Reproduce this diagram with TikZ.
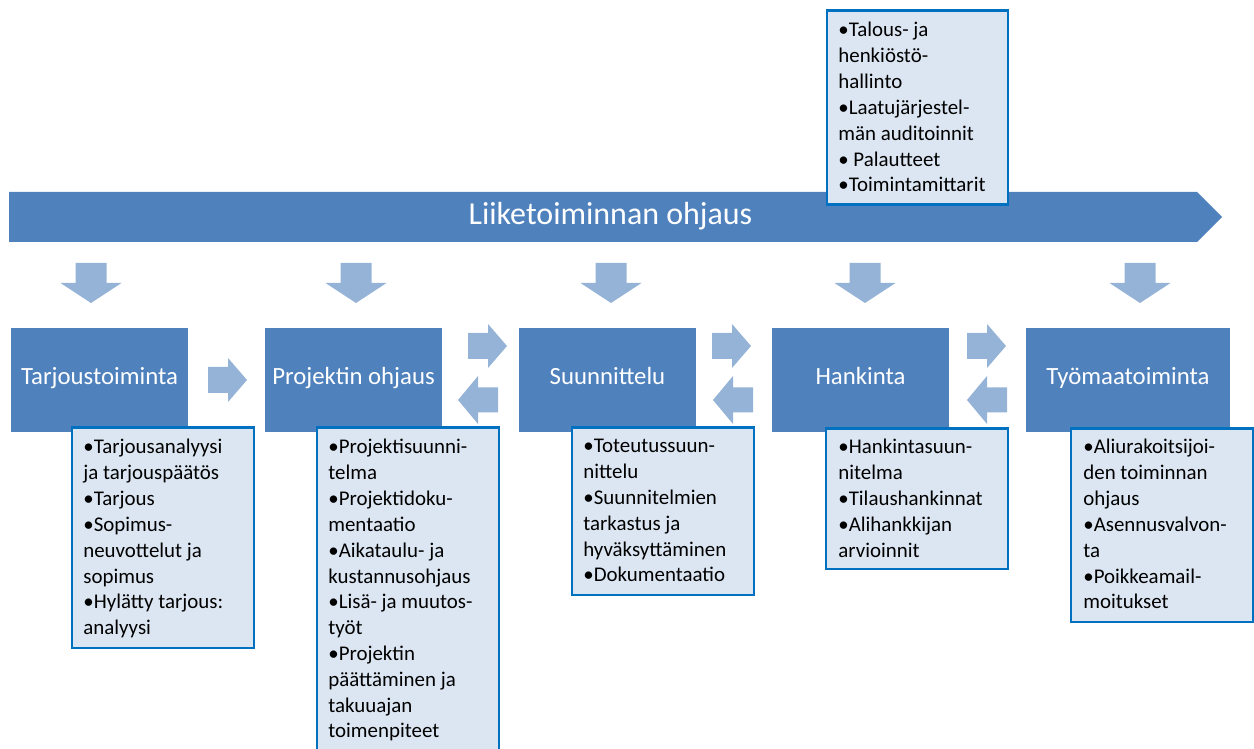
\documentclass[tikz,border=0pt]{standalone}
\usepackage{fontspec}
\setmainfont{Carlito}
\definecolor{darkblue}{HTML}{4F81BD}
\definecolor{paleblue}{HTML}{95B3D7}
\definecolor{boxfill}{HTML}{DCE6F2}
\definecolor{boxline}{HTML}{0070C0}
\newcommand\pxl{0.02cm}
\tikzset{
  stage/.style={fill=darkblue, text=white, inner sep=0pt,
    minimum height=104*\pxl, font=\fontsize{14.1}{16}\selectfont,
    text height=0.72em, text depth=0.22em},
  lightbox/.style={draw=boxline, fill=boxfill, line width=1.6pt,
    inner sep=0pt, anchor=north west},
  listtext/.style={anchor=north west, inner sep=0pt, align=left,
    font=\fontsize{11.9}{14.7}\selectfont},
  downarr/.pic={\fill[paleblue] (-15.5,0) -- (15.5,0) -- (15.5,20) -- (30.5,20)
      -- (0,40) -- (-30.5,20) -- (-15.5,20) -- cycle;},
  rightarr/.pic={\fill[paleblue] (0,-13) -- (20,-13) -- (20,-22) -- (39,0)
      -- (20,22) -- (20,13) -- (0,13) -- cycle;},
  leftarr/.pic={\fill[paleblue] (0,0) -- (20,-24) -- (20,-12.5) -- (40,-12.5)
      -- (40,12.5) -- (20,12.5) -- (20,24) -- cycle;}
}
\begin{document}
\begin{tikzpicture}[x=0.02cm, y=-0.02cm]
\useasboundingbox (0,0) rectangle (1254,749);
\clip (0,0) rectangle (1254,749);

% main process arrow
\fill[darkblue] (9,192) -- (1197,192) -- (1222,217) -- (1197,242) -- (9,242) -- cycle;
\node[text=white, inner sep=0pt, font=\fontsize{18.2}{21}\selectfont,
  text height=0.72em, text depth=0.22em] (main) at (610.5,220) {Liiketoiminnan ohjaus};

% arrows from the main process down to the stages
\pic at (91,263) {downarr};
\pic at (356,263) {downarr};
\pic at (611,263) {downarr};
\pic at (865,263) {downarr};
\pic at (1140,263) {downarr};

% stages
\node[stage, minimum width=177*\pxl] (s1) at (99.5,380) {Tarjoustoiminta};
\node[stage, minimum width=177*\pxl] (s2) at (353.5,380) {Projektin ohjaus};
\node[stage, minimum width=177*\pxl] (s3) at (607.5,380) {Suunnittelu};
\node[stage, minimum width=177*\pxl] (s4) at (860.5,380) {Hankinta};
\node[stage, minimum width=204*\pxl] (s5) at (1128,380) {Työmaatoiminta};

% arrows between the stages
\pic at (208,380) {rightarr};
\pic at (468,346) {rightarr};
\pic at (458,400) {leftarr};
\pic at (712,346) {rightarr};
\pic at (713,400) {leftarr};
\pic at (967,346) {rightarr};
\pic at (967,400) {leftarr};

% task lists
\node[lightbox, minimum width=182*\pxl, minimum height=220*\pxl] (b1) at (70.5,426.5) {};
\node[listtext] (t1) at (83,439) {•Tarjousanalyysi\\ja tarjouspäätös\\•Tarjous\\•Sopimus-\\neuvottelut ja\\sopimus\\•Hylätty tarjous:\\analyysi};

\node[lightbox, minimum width=182*\pxl, minimum height=340*\pxl] (b2) at (315.5,426.5) {};
\node[listtext] (t2) at (328,439) {•Projektisuunni-\\telma\\•Projektidoku-\\mentaatio\\•Aikataulu- ja\\kustannusohjaus\\•Lisä- ja muutos-\\työt\\•Projektin\\päättäminen ja\\takuuajan\\toimenpiteet};

\node[lightbox, minimum width=182*\pxl, minimum height=167*\pxl] (b3) at (570.5,426.5) {};
\node[listtext] (t3) at (583,439) {•Toteutussuun-\\nittelu\\•Suunnitelmien\\tarkastus ja\\hyväksyttäminen\\•Dokumentaatio};

\node[lightbox, minimum width=182*\pxl, minimum height=140*\pxl] (b4) at (824.5,427.5) {};
\node[listtext] (t4) at (838,439) {•Hankintasuun-\\nitelma\\•Tilaushankinnat\\•Alihankkijan\\arvioinnit};

\node[lightbox, minimum width=182*\pxl, minimum height=193*\pxl] (b5) at (1069.5,427.5) {};
\node[listtext] (t5) at (1083,439) {•Aliurakoitsijoi-\\den toiminnan\\ohjaus\\•Asennusvalvon-\\ta\\•Poikkeamail-\\moitukset};

\node[lightbox, minimum width=181*\pxl, minimum height=194*\pxl] (b0) at (825.5,9.5) {};
\node[listtext] (t0) at (838,22) {•Talous- ja\\henkiöstö-\\hallinto\\•Laatujärjestel-\\män auditoinnit\\• Palautteet\\•Toimintamittarit};
\end{tikzpicture}
\end{document}
